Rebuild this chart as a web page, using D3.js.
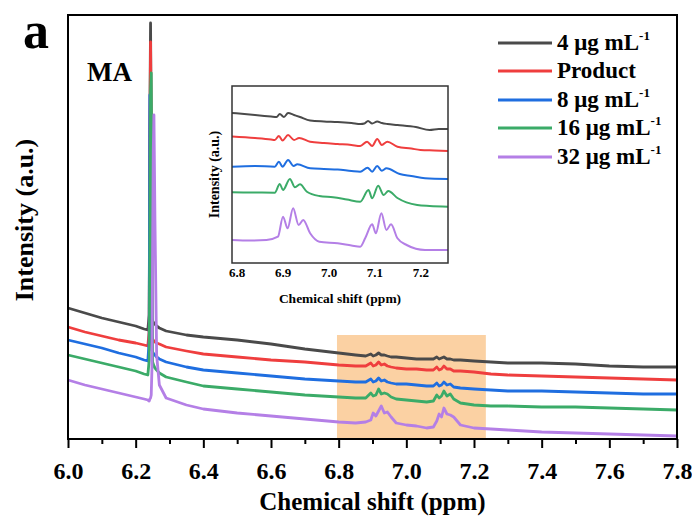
<!DOCTYPE html>
<html><head><meta charset="utf-8">
<script src="https://cdn.jsdelivr.net/npm/d3@7"></script>
<style>
body{margin:0;background:#fff}
text{font-family:"Liberation Serif","Times New Roman",serif;font-weight:bold;fill:#000}
</style>
</head><body>
<svg id="c" width="692" height="517"></svg>
<script>
// ---------- data ----------
const seriesNames = ["4 μg mL", "Product", "8 μg mL", "16 μg mL", "32 μg mL"];
const seriesSup   = ["-1", "", "-1", "-1", "-1"];
const seriesColors = ["#4a4a4a", "#ef3e3e", "#1f6ee0", "#3bab68", "#b47fe6"];

const xTicks = [6.0, 6.2, 6.4, 6.6, 6.8, 7.0, 7.2, 7.4, 7.6, 7.8];
const xMinorTicks = [6.1, 6.3, 6.5, 6.7, 6.9, 7.1, 7.3, 7.5, 7.7];
const insetTicks = [6.8, 6.9, 7.0, 7.1, 7.2];
const highlightPpm = [6.795, 7.235];
const highlightTop = 104;

// main spectrum (a.u.)
const mainPpm = [6.00,6.05,6.10,6.15,6.20,6.225,6.236,6.240,6.242,6.244,6.246,6.248,6.250,6.252,6.254,6.257,6.262,6.27,6.29,6.35,6.40,6.50,6.60,6.70,6.80,6.85,
  6.88,6.895,6.902,6.91,6.918,6.926,6.935,6.944,6.955,6.97,7.00,7.03,7.06,7.08,7.09,7.097,7.104,7.111,7.12,7.13,7.14,7.16,7.20,7.25,7.30,7.40,7.50,7.60,7.70,7.80];
const main4   = [131,126,121,117,113,110,109,124,319,416,299,121,118,117,116,115,113,111,108,104,102,99,95,90,86,84,
  83,85,83,84,86,84,84,83,82,82,81,80,80,80,82,80,81,82,80,80,79,79,78,77,76,76,75,73,72,72];
const mainProduct = [112,107,103,99,96,94,93,109,289,397,299,103,100,99,98,97,96,95,92,88,85,82,79,77,74,73,
  73,76,73,74,77,74,75,73,72,71,70,70,69,69,72,69,70,73,70,70,68,68,67,65,64,63,62,61,60,59];
const main8   = [99,95,91,86,82,79,78,99,344,319,189,89,87,86,85,84,82,80,77,72,69,66,63,60,58,57,
  57,60,57,58,61,58,59,57,56,55,55,54,53,53,56,53,54,57,54,55,52,51,50,49,48,48,47,46,45,45];
const main16  = [84,80,76,72,68,65,64,79,189,349,366,239,77,75,73,71,69,66,62,57,53,50,47,44,42,41,
  41,46,43,44,50,45,46,45,42,40,39,38,37,38,44,41,43,48,43,45,40,36,34,33,33,32,32,31,30,29];
const main32  = [59,54,50,46,42,40,39,38,40,41,44,69,189,289,324,219,84,54,41,34,30,26,23,20,17,16,
  17,19,26,23,28,33,26,27,22,16,14,13,11,12,18,25,22,31,25,24,22,14,11,10,9,7,6,5,4,3];

// inset spectra (a.u.)
const inset4Ppm = [6.79,6.84,6.875,6.887,6.894,6.903,6.912,6.925,6.938,6.96,6.99,7.02,7.05,7.07,7.078,7.086,7.095,7.106,7.116,7.128,7.15,7.19,7.22,7.24,7.26];
const inset4    = [150,148,146.5,146,149,146,150,148,146,142.5,141.5,141,140,139,139.5,142,139.5,141.5,140,139,138,136,133,134,134];
const insetProductPpm = [6.79,6.84,6.875,6.883,6.892,6.900,6.912,6.925,6.936,6.96,6.99,7.02,7.05,7.069,7.084,7.095,7.106,7.116,7.128,7.15,7.18,7.20,7.23,7.26];
const insetProduct    = [126.5,125,123.5,123,127,122.5,128,123,125,121.3,120,119,118,117,121.3,117,124,118,121.3,116.3,114.5,113,112.5,112];
const inset8Ppm = [6.79,6.84,6.883,6.892,6.900,6.912,6.924,6.932,6.96,6.99,7.02,7.05,7.069,7.085,7.095,7.106,7.116,7.126,7.155,7.18,7.21,7.26];
const inset8    = [96.3,97,96.3,101.3,96.3,103,97,98.7,94.7,94,93.5,92,91.3,95.3,91.3,97,92.3,94.7,89,87,84.7,84];
const inset16Ppm = [6.79,6.84,6.883,6.894,6.901,6.916,6.927,6.938,6.953,6.98,7.01,7.04,7.069,7.087,7.095,7.108,7.12,7.13,7.15,7.193,7.22,7.26];
const inset16    = [70.7,70.5,70.3,79,73,84,75.7,78.7,71.3,67,65.7,63.5,61.3,73,64.7,77.3,68,72,65,58,57,56.3];
const inset32Ppm = [6.79,6.83,6.865,6.89,6.901,6.911,6.923,6.935,6.945,6.96,6.98,7.02,7.05,7.069,7.08,7.095,7.103,7.115,7.126,7.136,7.15,7.17,7.21,7.26];
const inset32    = [23,22.5,23,26.3,46.3,34.7,54.7,38,43,29.7,21.3,19.7,17.5,16.3,25,38.7,29.7,49.7,33,38.7,24.7,18,13,13];

const mainSeries = [main4, mainProduct, main8, main16, main32];
const insetSeries = [[inset4Ppm, inset4],[insetProductPpm, insetProduct],[inset8Ppm, inset8],[inset16Ppm, inset16],[inset32Ppm, inset32]];

// ---------- drawing ----------
const svg = d3.select("#c");
const M = {l:68, r:677, t:15, b:439};
const x = d3.scaleLinear().domain([6.0, 7.8]).range([M.l, M.r]);
const y = d3.scaleLinear().domain([0, 424]).range([M.b, M.t]);

// highlight
svg.append("rect")
  .attr("x", x(highlightPpm[0])).attr("y", y(highlightTop))
  .attr("width", x(highlightPpm[1]) - x(highlightPpm[0]))
  .attr("height", y(0) - y(highlightTop))
  .attr("fill", "#fbd1a3");

// main lines
const line = d3.line().x((d,i)=>x(mainPpm[i])).y(d=>y(d));
mainSeries.forEach((s,k)=>{
  svg.append("path").datum(s).attr("d", line)
    .attr("fill","none").attr("stroke", seriesColors[k])
    .attr("stroke-width", 2.8).attr("stroke-linejoin","round");
});

// frame
svg.append("rect").attr("x",M.l).attr("y",M.t).attr("width",M.r-M.l).attr("height",M.b-M.t)
  .attr("fill","none").attr("stroke","#000").attr("stroke-width",2);

// x axis
const gx = svg.append("g").attr("transform",`translate(0,${M.b})`)
  .call(d3.axisBottom(x).tickValues(xTicks).tickSize(9).tickSizeOuter(0).tickPadding(14).tickFormat(d3.format(".1f")));
gx.select(".domain").remove();
gx.selectAll("line").attr("stroke","#000").attr("stroke-width",2);
gx.selectAll("text").attr("font-size",24).style("font-family",'"Liberation Serif",serif').style("font-weight","bold");
const gxm = svg.append("g").attr("transform",`translate(0,${M.b})`)
  .call(d3.axisBottom(x).tickValues(xMinorTicks).tickSize(5).tickSizeOuter(0).tickFormat(""));
gxm.select(".domain").remove();
gxm.selectAll("line").attr("stroke","#000").attr("stroke-width",2);

// axis labels
svg.append("text").attr("x",(M.l+M.r)/2).attr("y",510).attr("text-anchor","middle")
  .attr("font-size",25).text("Chemical shift (ppm)");
svg.append("text").attr("transform","translate(33,220) rotate(-90)").attr("text-anchor","middle")
  .attr("font-size",26).text("Intensity (a.u.)");

// panel letter and MA
svg.append("text").attr("x",23).attr("y",48).attr("font-size",52).text("a");
svg.append("text").attr("x",87).attr("y",81).attr("font-size",27).text("MA");

// legend
const legY = [43, 71, 100, 128, 157];
seriesNames.forEach((n,k)=>{
  svg.append("line").attr("x1",498).attr("x2",552).attr("y1",legY[k]).attr("y2",legY[k])
    .attr("stroke",seriesColors[k]).attr("stroke-width",3);
  const t = svg.append("text").attr("x",557).attr("y",legY[k]+7).attr("font-size",23);
  t.append("tspan").text(n);
  if (seriesSup[k]) t.append("tspan").attr("font-size",13).attr("dy",-10).text(seriesSup[k]);
});

// inset
const I = {l:232, r:448, t:86, b:263};
const xi = d3.scaleLinear().domain([6.79, 7.26]).range([I.l, I.r]);
const yi = d3.scaleLinear().domain([0, 177]).range([I.b, I.t]);
svg.append("rect").attr("x",I.l).attr("y",I.t).attr("width",I.r-I.l).attr("height",I.b-I.t).attr("fill","#fff");
const iline = d3.line().curve(d3.curveMonotoneX);
insetSeries.forEach((s,k)=>{
  const pts = s[0].map((p,i)=>[xi(p), yi(s[1][i])]);
  svg.append("path").attr("d", iline(pts)).attr("fill","none")
    .attr("stroke", seriesColors[k]).attr("stroke-width",2);
});
svg.append("rect").attr("x",I.l).attr("y",I.t).attr("width",I.r-I.l).attr("height",I.b-I.t)
  .attr("fill","none").attr("stroke","#333").attr("stroke-width",1.5);
const gi = svg.append("g").attr("transform",`translate(0,${I.b})`)
  .call(d3.axisBottom(xi).tickValues(insetTicks).tickSize(0).tickPadding(5).tickFormat(d3.format(".1f")));
gi.select(".domain").remove();
gi.selectAll("text").attr("font-size",13).style("font-family",'"Liberation Serif",serif').style("font-weight","bold");
svg.append("text").attr("x",(I.l+I.r)/2).attr("y",303).attr("text-anchor","middle")
  .attr("font-size",13.5).text("Chemical shift (ppm)");
svg.append("text").attr("transform",`translate(219,${(I.t+I.b)/2}) rotate(-90)`).attr("text-anchor","middle")
  .attr("font-size",14).text("Intensity (a.u.)");
</script>
</body></html>
